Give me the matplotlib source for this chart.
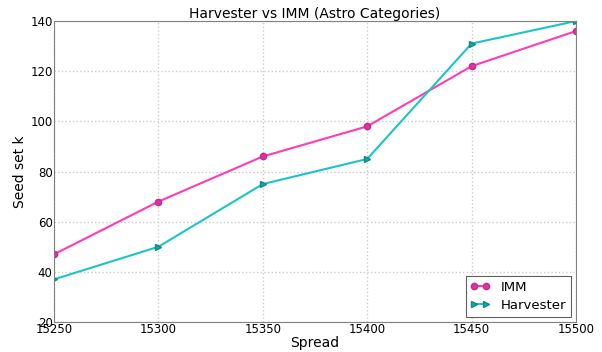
import matplotlib
matplotlib.use('Agg')
import matplotlib.pyplot as plt

spread = [15250, 15300, 15350, 15400, 15450, 15500]
imm = [47, 68, 86, 98, 122, 136]
harvester = [37, 50, 75, 85, 131, 140]

plt.rcParams['font.family'] = ['DejaVu Sans']
fig = plt.figure(figsize=(6.02, 3.52), dpi=100)
ax = fig.add_axes([0.0897, 0.0852, 0.867, 0.855])

ax.plot(spread, imm, color='#ff3cb4', marker='o', markersize=4.5,
        markerfacecolor='#e0339f', markeredgecolor='#c42a8a', linewidth=1.5, label='IMM')
ax.plot(spread, harvester, color='#1cc4c4', marker='>', markersize=5,
        markerfacecolor='#17a8a8', markeredgecolor='#118888', linewidth=1.5, label='Harvester')

ax.set_xlim(15250, 15500)
ax.set_ylim(20, 140)
ax.set_xticks(spread)
ax.set_yticks(range(20, 141, 20))
ax.grid(True, color='#cccccc', linestyle=':', linewidth=1)
for s in ax.spines.values():
    s.set_color('#808080')
ax.tick_params(length=0, labelsize=8.5, pad=1)

ax.set_title('Harvester vs IMM (Astro Categories)', fontsize=10, pad=2)
ax.set_xlabel('Spread', fontsize=10, labelpad=0)
ax.set_ylabel('Seed set k', fontsize=10, labelpad=2)

leg = ax.legend(loc='lower right', fontsize=9.5, fancybox=False, framealpha=1,
                borderaxespad=0.4, borderpad=0.35, labelspacing=0.4,
                handlelength=1.5, handletextpad=0.8, numpoints=2)
leg.get_frame().set_edgecolor('#606060')
leg.get_frame().set_linewidth(0.8)

fig.savefig('out.png', dpi=100)
